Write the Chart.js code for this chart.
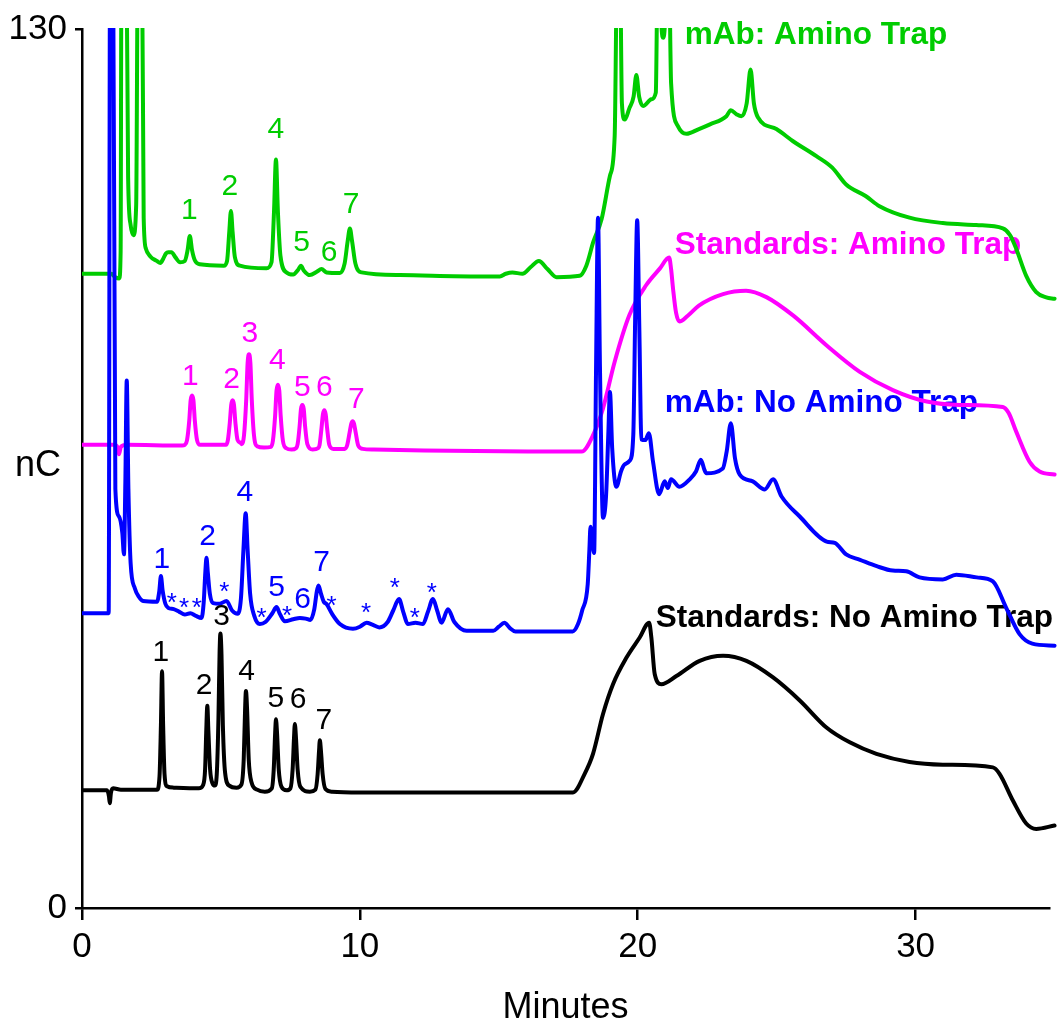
<!DOCTYPE html>
<html>
<head>
<meta charset="utf-8">
<title>Chromatograms: amino trap comparison</title>
<script src="https://cdn.jsdelivr.net/npm/chart.js@4/dist/chart.umd.min.js"></script>
<style>
  html, body { margin: 0; padding: 0; background: #fff; }
  canvas { display: block; }
</style>
</head>
<body>
<canvas id="chrom" width="1060" height="1022"></canvas>
<script>
// ---- Traces: retention time (min) and detector response (nC, offset traces) ----
const mAbTrapTime = [0,1.05,1.2,1.34,1.39,1.42,1.6,1.66,1.75,1.85,1.95,2.01,2.16,2.22,2.3,2.45,2.69,2.82,2.92,3.02,3.1,3.22,3.35,3.53,3.7,3.8,3.88,3.96,4.06,4.24,5.1,5.22,5.3,5.36,5.42,5.5,5.68,6.64,6.82,6.91,6.98,7.05,7.14,7.36,7.6,7.78,7.88,7.98,8.2,8.45,8.62,8.8,9.28,9.45,9.56,9.64,9.72,9.84,10.06,11.44,14.3,15.04,15.25,15.49,15.85,16.15,16.44,16.75,17.08,17.91,18.15,18.4,18.7,19.0,19.17,19.26,19.36,19.43,19.53,19.7,19.85,19.95,20.05,20.19,20.49,20.65,20.72,20.8,20.86,20.92,20.98,21.04,21.12,21.2,21.45,21.75,22.2,22.6,23.19,23.35,23.55,23.73,23.92,24.06,24.18,24.33,24.99,25.59,26.43,27.0,27.5,28.2,28.7,29.78,30.98,32.18,33.14,33.4,33.62,33.98,34.34,34.7,35.0];
const mAbTrapNC   = [93.8,93.8,93.3,93.1,97,140,140,108,101,99.5,104,140,140,102,97.5,96.4,95.7,95.4,96.0,96.8,97.0,97.0,96.3,95.5,95.7,97.3,99.4,97.3,95.8,95.2,95.0,95.7,100.0,103.1,100.0,96.3,95.0,94.6,95.5,103.0,110.7,103.0,96.5,94.0,93.7,94.4,95.0,94.3,93.6,94.1,94.5,94.0,93.9,95.3,98.6,100.5,98.6,95.3,94.0,93.6,93.4,93.4,93.8,94.0,93.8,94.8,95.7,94.5,93.3,93.5,95.0,98.5,101.9,108.3,114.2,140,140,119,116.6,118.3,120.0,123.2,120.0,118.6,119.6,120.6,140,140,130,128.7,131,140,140,122,115.6,114.5,115.2,115.9,117.1,118.0,117.4,117.1,119.0,124.0,119.0,116.9,115.2,113.4,111.2,109.5,107.0,105.3,103.8,102.1,101.3,101.0,100.5,99.5,97.5,93.5,91.1,90.3,90.1];

const stdTrapTime = [0,1.15,1.26,1.33,1.4,1.6,3.6,3.7,3.78,3.86,3.91,3.96,4.01,4.06,4.14,4.25,5.18,5.25,5.32,5.37,5.42,5.47,5.52,5.6,5.71,5.75,5.83,5.91,5.96,6.01,6.06,6.11,6.19,6.3,6.55,6.8,6.87,6.95,7.0,7.05,7.1,7.15,7.23,7.35,7.54,7.7,7.76,7.83,7.88,7.93,7.98,8.03,8.11,8.3,8.5,8.55,8.62,8.67,8.72,8.77,8.82,8.9,9.05,9.45,9.54,9.63,9.69,9.74,9.79,9.85,9.94,10.1,10.5,17.98,18.4,18.75,19.17,19.7,20.3,20.8,21.13,21.2,21.27,21.38,21.5,21.8,22.2,23.07,23.9,24.63,25.6,26.8,27.99,29.18,30.4,31.58,33.14,33.35,33.62,34.1,34.46,35.0];
const stdTrapNC   = [68.5,68.5,68.3,67.1,68.2,68.5,68.4,68.5,69.2,72.1,75.1,75.8,75.1,72.1,69.2,68.5,68.5,69.2,71.8,74.4,75.1,74.4,71.8,69.2,68.8,68.6,69.9,75.2,80.6,81.9,80.6,75.2,69.9,68.3,68.1,68.2,69.1,72.8,76.5,77.4,76.5,72.8,69.1,68.0,67.8,68.0,68.6,71.2,73.8,74.4,73.8,71.2,68.6,67.8,68.0,68.5,71.0,73.0,73.6,73.0,71.0,68.5,67.9,67.9,68.4,70.3,71.6,72.0,71.6,70.3,68.4,67.9,67.8,67.5,70.0,73.9,80.8,87.7,92.1,94.6,96.2,94.5,91.6,88.0,86.75,87.6,89.1,90.8,91.3,90.35,87.6,83.2,79.3,76.6,74.9,74.4,74.1,73.2,70.45,66.0,64.55,64.1];

const mAbNoTrapTime = [0,0.96,1.01,1.12,1.2,1.33,1.45,1.51,1.56,1.61,1.67,1.75,1.9,2.05,2.2,2.7,2.78,2.84,2.9,3.0,3.1,3.3,3.5,3.7,3.9,4.1,4.3,4.38,4.44,4.48,4.53,4.6,4.72,4.95,5.2,5.4,5.6,5.72,5.81,5.89,5.96,6.05,6.2,6.4,6.6,6.85,7.0,7.12,7.3,7.6,7.84,8.05,8.22,8.36,8.45,8.51,8.6,8.7,8.8,9.0,9.28,9.75,10.0,10.24,10.45,10.7,11.0,11.2,11.41,11.56,11.73,12.0,12.27,12.45,12.63,12.78,12.94,13.17,13.4,13.84,14.8,15.0,15.2,15.4,15.6,17.66,17.85,18.0,18.2,18.26,18.3,18.43,18.5,18.57,18.64,18.75,18.86,18.94,19.0,19.08,19.23,19.4,19.53,19.72,19.84,19.91,19.98,20.06,20.13,20.27,20.4,20.55,20.77,20.97,21.08,21.2,21.5,21.87,22.1,22.27,22.4,22.47,23.06,23.2,23.35,23.5,23.67,24.14,24.57,24.87,25.17,25.83,26.8,27.09,27.5,28.0,28.6,29.18,29.66,30.14,30.98,31.46,32.2,32.78,33.26,33.74,34.2,35.0];
const mAbNoTrapNC   = [43.6,43.6,140,140,62,57.9,55.5,52.3,63,78.0,62,51,47.3,46.0,45.4,45.3,46.8,49.1,47.0,45.0,44.4,44.2,43.8,43.4,43.6,43.2,42.9,45.2,49.8,51.8,49.5,46.5,45.1,45.0,45.4,44.0,43.5,45.8,53.0,58.4,53.0,46.5,43.2,42.0,42.3,43.6,44.5,43.5,42.4,42.7,42.9,42.8,42.6,44.2,46.8,47.7,46.5,45.3,44.95,43.5,42.0,41.3,41.6,42.2,41.9,41.5,42.3,44.0,45.7,43.8,42.0,42.2,42.0,43.8,45.7,44.0,42.2,44.2,42.3,41.0,41.0,41.6,42.2,41.4,40.9,40.9,42.0,44.0,47.9,53.0,56.4,52.5,80.0,102.1,80.0,57.7,61.0,70.0,76.3,68.0,62.3,64.6,65.6,66.2,70.0,88.0,101.7,85.0,69.3,69.2,70.2,66.0,61.2,63.1,62.1,63.4,62.3,63.4,64.6,66.3,64.8,64.3,65.0,67.5,71.7,66.5,64.1,63.1,61.9,63.4,60.9,57.9,54.2,54.0,52.3,51.5,50.55,49.9,49.8,48.9,48.6,49.3,48.9,48.3,44.4,40.5,39.1,38.8];

const stdNoTrapTime = [0,0.9,0.97,1.0,1.04,1.12,1.4,2.7,2.79,2.84,2.88,2.92,2.97,3.06,3.3,4.2,4.36,4.43,4.47,4.51,4.55,4.61,4.7,4.78,4.85,4.91,4.95,4.98,5.02,5.07,5.15,5.3,5.56,5.74,5.82,5.87,5.9,5.94,6.0,6.1,6.3,6.58,6.83,6.9,6.95,6.98,7.02,7.08,7.18,7.36,7.5,7.58,7.63,7.66,7.7,7.76,7.86,8.2,8.4,8.48,8.53,8.56,8.6,8.66,8.76,9.0,10.0,15.0,17.67,18.09,18.39,18.75,19.11,19.59,20.07,20.41,20.49,20.61,20.85,21.39,22.23,23.07,23.91,24.87,25.83,26.79,27.63,28.59,29.78,30.98,32.78,33.02,33.5,33.98,34.34,35.0];
const stdNoTrapNC   = [17.4,17.4,16.5,15.5,17.0,17.7,17.5,17.5,19.5,27.0,35.0,27.0,19.8,18.0,17.8,17.7,18.2,20.5,26.0,29.9,26.0,20.5,18.4,18.1,19.8,28.0,37.5,40.6,37.5,27.0,20.0,18.1,17.8,18.3,22.0,29.5,32.1,29.5,22.0,18.6,17.5,17.2,17.7,20.5,25.8,27.9,25.8,20.5,17.9,17.4,17.7,20.5,25.2,27.2,25.2,20.5,17.9,17.2,17.5,19.8,23.2,24.8,23.2,19.8,17.6,17.2,17.1,17.1,17.1,19.85,22.8,28.7,33.1,37.0,40.0,42.2,40.0,34.6,33.1,34.3,36.55,37.3,36.55,34.1,30.7,26.7,24.5,22.8,21.6,21.2,20.8,19.85,15.9,12.5,11.7,12.2];

// ---- Trace names, anchored at (time, nC) of their left baseline ----
const traceNames = ['mAb: Amino Trap', 'Standards: Amino Trap', 'mAb: No Amino Trap', 'Standards: No Amino Trap'];
const nameTime   = [21.69, 21.33, 20.97, 20.65];
const nameLevel  = [127.8, 96.7, 73.3, 41.5];

// ---- Peak tags (text centred on time, nC) ----
const mAbTrapTagText  = ['1','2','4','5','6','7'];
const mAbTrapTagTime  = [3.86, 5.32, 6.98, 7.90, 8.89, 9.68];
const mAbTrapTagLevel = [103.4, 107.0, 115.4, 98.7, 97.2, 104.3];

const stdTrapTagText  = ['1','2','3','4','5','6','7'];
const stdTrapTagTime  = [3.90, 5.38, 6.04, 7.03, 7.93, 8.72, 9.87];
const stdTrapTagLevel = [78.8, 78.4, 85.2, 81.25, 77.2, 77.2, 75.5];

const mAbNoTrapTagText  = ['1','*','*','*','2','*','4','*','5','*','6','7','*','*','*','*','*'];
const mAbNoTrapTagTime  = [2.87, 3.23, 3.67, 4.13, 4.52, 5.12, 5.86, 6.46, 7.0, 7.38, 7.94, 8.62, 8.98, 10.22, 11.26, 11.98, 12.59];
const mAbNoTrapTagLevel = [51.8, 45.9, 45.1, 45.1, 55.1, 47.5, 61.7, 43.7, 47.6, 43.9, 45.9, 51.3, 45.4, 44.4, 48.1, 43.7, 47.3];

const stdNoTrapTagText  = ['1','2','3','4','5','6','7'];
const stdNoTrapTagTime  = [2.84, 4.39, 5.02, 5.92, 6.98, 7.78, 8.7];
const stdNoTrapTagLevel = [38.0, 33.2, 43.4, 35.2, 31.2, 31.1, 27.9];

const xTickValues = [0, 10, 20, 30];
const yTickValues = [0, 130];

// ---- Styling ----
const FAMILY = '"Liberation Sans", Arial, Helvetica, sans-serif';
const GREEN = '#00cc00', PINK = '#ff00ff', BLUE = '#0000ff', BLACK = '#000000';
const traceColors = [GREEN, PINK, BLUE, BLACK];

function points(times, values) {
  return times.map((t, i) => ({ x: t, y: values[i] }));
}

function trace(label, times, values, color) {
  return {
    label,
    data: points(times, values),
    borderColor: color,
    backgroundColor: color,
    borderWidth: 4,
    pointRadius: 0,
    fill: false,
    cubicInterpolationMode: 'monotone',
    borderJoinStyle: 'round',
    borderCapStyle: 'round',
    clip: { left: 0, top: 1, right: 8, bottom: 0 }
  };
}

const tagGroups = [
  { text: mAbTrapTagText,   time: mAbTrapTagTime,   level: mAbTrapTagLevel,   color: GREEN },
  { text: stdTrapTagText,   time: stdTrapTagTime,   level: stdTrapTagLevel,   color: PINK },
  { text: mAbNoTrapTagText, time: mAbNoTrapTagTime, level: mAbNoTrapTagLevel, color: BLUE },
  { text: stdNoTrapTagText, time: stdNoTrapTagTime, level: stdNoTrapTagLevel, color: BLACK }
];

// Draws trace names (under the lines), peak tags (over the lines) and the horizontal "nC" axis label.
const labelPlugin = {
  id: 'traceLabels',
  beforeDatasetsDraw(chart) {
    const { ctx, scales: { x, y } } = chart;
    ctx.save();
    ctx.font = 'bold 31.5px ' + FAMILY;
    ctx.textAlign = 'left';
    ctx.textBaseline = 'alphabetic';
    traceNames.forEach((name, i) => {
      ctx.fillStyle = traceColors[i];
      ctx.fillText(name, x.getPixelForValue(nameTime[i]), y.getPixelForValue(nameLevel[i]));
    });
    ctx.restore();
  },
  afterDatasetsDraw(chart) {
    const { ctx, scales: { x, y } } = chart;
    ctx.save();
    ctx.textAlign = 'center';
    ctx.textBaseline = 'alphabetic';
    tagGroups.forEach(g => {
      ctx.fillStyle = g.color;
      g.text.forEach((txt, i) => {
        ctx.font = (txt === '*' ? '26px ' : '30px ') + FAMILY;
        const m = ctx.measureText(txt);
        const cx = x.getPixelForValue(g.time[i]);
        const cy = y.getPixelForValue(g.level[i]);
        const base = cy + (m.actualBoundingBoxAscent - m.actualBoundingBoxDescent) / 2;
        ctx.fillText(txt, cx, base);
      });
    });
    ctx.restore();
  },
  afterDraw(chart) {
    const { ctx, chartArea } = chart;
    ctx.save();
    ctx.font = '36px ' + FAMILY;
    ctx.fillStyle = BLACK;
    ctx.textAlign = 'left';
    ctx.textBaseline = 'middle';
    ctx.fillText('nC', 15, (chartArea.top + chartArea.bottom) / 2 - 2);
    ctx.restore();
  }
};

Chart.defaults.font.family = FAMILY;
Chart.defaults.color = BLACK;

new Chart(document.getElementById('chrom'), {
  type: 'line',
  data: {
    datasets: [
      trace('mAb: No Amino Trap', mAbNoTrapTime, mAbNoTrapNC, BLUE),
      trace('mAb: Amino Trap', mAbTrapTime, mAbTrapNC, GREEN),
      trace('Standards: Amino Trap', stdTrapTime, stdTrapNC, PINK),
      trace('Standards: No Amino Trap', stdNoTrapTime, stdNoTrapNC, BLACK)
    ]
  },
  options: {
    responsive: false,
    animation: false,
    devicePixelRatio: 1,
    layout: { padding: { left: 0, right: 11, top: 26, bottom: 0 } },
    plugins: { legend: { display: false }, tooltip: { enabled: false } },
    scales: {
      x: {
        type: 'linear',
        min: 0,
        max: 34.8,
        afterBuildTicks: s => { s.ticks = xTickValues.map(v => ({ value: v })); },
        afterFit: s => { s.height = 114; },
        ticks: { font: { size: 35 }, color: BLACK, padding: 6, maxRotation: 0 },
        grid: { drawOnChartArea: false, drawTicks: true, tickLength: 12, color: BLACK, lineWidth: 2.5 },
        border: { display: true, color: BLACK, width: 2.5 },
        title: { display: true, text: 'Minutes', color: BLACK, font: { size: 36, lineHeight: 1 }, padding: { top: 0, bottom: -4 } }
      },
      y: {
        type: 'linear',
        min: 0,
        max: 130,
        afterBuildTicks: s => { s.ticks = yTickValues.map(v => ({ value: v })); },
        afterFit: s => { s.width = 82; },
        ticks: { font: { size: 35 }, color: BLACK, padding: 8 },
        grid: { drawOnChartArea: false, drawTicks: true, tickLength: 7, color: BLACK, lineWidth: 2.5 },
        border: { display: true, color: BLACK, width: 2.5 }
      }
    }
  },
  plugins: [labelPlugin]
});
</script>
</body>
</html>
